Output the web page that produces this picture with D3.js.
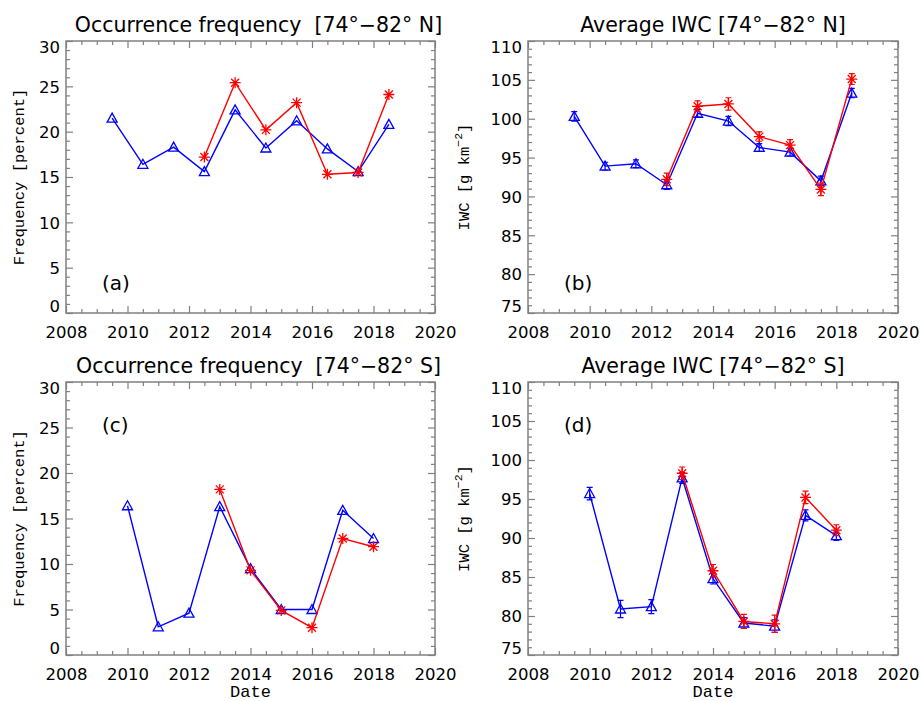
<!DOCTYPE html>
<html>
<head>
<meta charset="utf-8">
<script src="https://cdn.jsdelivr.net/npm/d3@7"></script>
<style>
  body { margin: 0; background: #fff; }
  text { white-space: pre; }
</style>
</head>
<body>
<div id="chart"></div>
<script>
// years
const yearsN = [2009.5, 2010.5, 2011.5, 2012.5, 2013.5, 2014.5, 2015.5, 2016.5, 2017.5, 2018.5];
const yearsNRed = [2012.5, 2013.5, 2014.5, 2015.5, 2016.5, 2017.5, 2018.5];
const yearsS = [2010, 2011, 2012, 2013, 2014, 2015, 2016, 2017, 2018];
const yearsSRed = [2013, 2014, 2015, 2016, 2017, 2018];

// north
const freqNBlue = [21.5, 16.4, 18.3, 15.6, 22.4, 18.2, 21.2, 18.1, 15.6, 20.8];
const freqNRed = [17.2, 25.4, 20.2, 23.2, 15.3, 15.5, 24.1];
const iwcNBlue = [100.3, 93.9, 94.2, 91.5, 100.7, 99.7, 96.3, 95.7, 92.0, 103.3];
const iwcNBlueErr = [0.6, 0.5, 0.5, 0.6, 0.5, 0.6, 0.5, 0.5, 0.6, 0.6];
const iwcNRed = [92.2, 101.6, 101.9, 97.7, 96.6, 90.9, 105.1];
const iwcNRedErr = [0.8, 0.7, 0.8, 0.6, 0.7, 0.8, 0.7];

// south
const freqSBlue = [16.4, 3.1, 4.6, 16.3, 9.5, 5.0, 5.0, 15.9, 12.8];
const freqSRed = [18.2, 9.3, 4.9, 3.0, 12.8, 11.9];
const iwcSBlue = [95.7, 80.9, 81.2, 97.7, 84.8, 79.1, 78.7, 92.9, 90.3];
const iwcSBlueErr = [0.8, 1.1, 0.9, 0.7, 0.7, 0.7, 0.8, 0.7, 0.6];
const iwcSRed = [98.3, 85.8, 79.3, 79.0, 95.2, 91.0];
const iwcSRedErr = [0.8, 0.8, 0.9, 1.1, 0.8, 0.7];

// axes
const xTicks = [2008, 2010, 2012, 2014, 2016, 2018, 2020];
const freqTicks = [0, 5, 10, 15, 20, 25, 30];
const iwcTicks = [75, 80, 85, 90, 95, 100, 105, 110];

const width = 921, height = 701;
const blue = '#0000ff', red = '#ff0000', axisGray = '#808080';
const sansFont = '"DejaVu Sans", sans-serif';
const monoFont = '"Liberation Mono", "DejaVu Sans Mono", monospace';

const svg = d3.select('#chart')
  .append('svg')
  .attr('width', width)
  .attr('height', height)
  .attr('viewBox', `0 0 ${width} ${height}`);

const zip = (xs, ys, es) => xs.map((x, i) => ({ x: x, y: ys[i], e: es ? es[i] : null }));

const panels = [
  { box: [66, 435, 41, 313], title: 'Occurrence frequency  [74°\u221282° N]', tag: '(a)', tagPos: 'bottom',
    ticks: freqTicks, yLabel: 'freq', xLabel: false,
    series: [{ c: blue, m: 'tri', d: zip(yearsN, freqNBlue) }, { c: red, m: 'star', d: zip(yearsNRed, freqNRed) }] },
  { box: [528, 898, 41, 313], title: 'Average IWC [74°\u221282° N]', tag: '(b)', tagPos: 'bottom',
    ticks: iwcTicks, yLabel: 'iwc', xLabel: false,
    series: [{ c: blue, m: 'tri', d: zip(yearsN, iwcNBlue, iwcNBlueErr) }, { c: red, m: 'star', d: zip(yearsNRed, iwcNRed, iwcNRedErr) }] },
  { box: [66, 435, 382, 655], title: 'Occurrence frequency  [74°\u221282° S]', tag: '(c)', tagPos: 'top',
    ticks: freqTicks, yLabel: 'freq', xLabel: true,
    series: [{ c: blue, m: 'tri', d: zip(yearsS, freqSBlue) }, { c: red, m: 'star', d: zip(yearsSRed, freqSRed) }] },
  { box: [528, 898, 382, 655], title: 'Average IWC [74°\u221282° S]', tag: '(d)', tagPos: 'top',
    ticks: iwcTicks, yLabel: 'iwc', xLabel: true,
    series: [{ c: blue, m: 'tri', d: zip(yearsS, iwcSBlue, iwcSBlueErr) }, { c: red, m: 'star', d: zip(yearsSRed, iwcSRed, iwcSRedErr) }] }
];

const triPath = 'M-5,4L5,4L0,-5Z';
const starPath = 'M0,-5.5V5.5M-5.5,0H5.5M-4,-4L4,4M-4,4L4,-4';

panels.forEach(drawPanel);

function drawPanel(p) {
  const [x0, x1, y0, y1] = p.box;
  const g = svg.append('g');
  const x = d3.scaleLinear().domain([2008, 2020]).range([x0, x1]);
  const y = d3.scaleLinear().domain(d3.extent(p.ticks)).range([y1, y0]);

  const minorX = d3.range(2008, 2020.01, 0.5).filter(v => v % 2 !== 0);
  const minorY = d3.range(p.ticks[0], p.ticks[p.ticks.length - 1] + 0.01, 1).filter(v => (v - p.ticks[0]) % 5 !== 0);

  // minor ticks on all sides
  const minor = [
    [d3.axisBottom(x).tickValues(minorX), `translate(0,${y1})`],
    [d3.axisTop(x).tickValues(minorX), `translate(0,${y0})`],
    [d3.axisLeft(y).tickValues(minorY), `translate(${x0},0)`],
    [d3.axisRight(y).tickValues(minorY), `translate(${x1},0)`]
  ];
  minor.forEach(([ax, tr]) => {
    g.append('g').attr('transform', tr)
      .call(ax.tickSizeInner(-4).tickSizeOuter(0).tickFormat(''))
      .call(s => s.select('.domain').remove())
      .selectAll('line').attr('stroke', axisGray).attr('stroke-width', 1.2);
  });

  // major ticks, top/right without labels
  g.append('g').attr('transform', `translate(0,${y0})`)
    .call(d3.axisTop(x).tickValues(xTicks).tickSizeInner(-7).tickSizeOuter(0).tickFormat(''))
    .call(s => s.select('.domain').remove())
    .selectAll('line').attr('stroke', axisGray).attr('stroke-width', 1.2);
  g.append('g').attr('transform', `translate(${x1},0)`)
    .call(d3.axisRight(y).tickValues(p.ticks).tickSizeInner(-7).tickSizeOuter(0).tickFormat(''))
    .call(s => s.select('.domain').remove())
    .selectAll('line').attr('stroke', axisGray).attr('stroke-width', 1.2);

  const bottomAx = g.append('g').attr('transform', `translate(0,${y1})`)
    .call(d3.axisBottom(x).tickValues(xTicks).tickSizeInner(-7).tickSizeOuter(0).tickPadding(13).tickFormat(d3.format('d')))
    .call(s => s.select('.domain').remove());
  bottomAx.selectAll('line').attr('stroke', axisGray).attr('stroke-width', 1.2);
  bottomAx.selectAll('text').attr('font-family', sansFont).attr('font-size', 16.5).attr('fill', '#000');

  const top = p.ticks[p.ticks.length - 1], bot = p.ticks[0];
  const leftAx = g.append('g').attr('transform', `translate(${x0},0)`)
    .call(d3.axisLeft(y).tickValues(p.ticks).tickSizeInner(-7).tickSizeOuter(0).tickPadding(6).tickFormat(d3.format('d')))
    .call(s => s.select('.domain').remove());
  leftAx.selectAll('line').attr('stroke', axisGray).attr('stroke-width', 1.2);
  leftAx.selectAll('text').attr('font-family', sansFont).attr('font-size', 16.5).attr('fill', '#000')
    .attr('dy', d => d === top ? '0.72em' : d === bot ? '-0.08em' : '0.35em');

  // frame
  g.append('rect')
    .attr('x', x0).attr('y', y0)
    .attr('width', x1 - x0).attr('height', y1 - y0)
    .attr('fill', 'none').attr('stroke', axisGray).attr('stroke-width', 1.5);

  // title
  g.append('text')
    .attr('x', (x0 + x1) / 2 + (p.yLabel === 'freq' ? 8 : 0)).attr('y', y0 - 9.5)
    .attr('text-anchor', 'middle')
    .attr('font-family', sansFont).attr('font-size', 20.5)
    .text(p.title);

  // y label
  const yl = g.append('text')
    .attr('transform', `translate(${x0 - (p.yLabel === 'freq' ? 42 : 59)},${(y0 + y1) / 2}) rotate(-90)`)
    .attr('text-anchor', 'middle')
    .attr('font-family', monoFont).attr('font-size', 15.5);
  if (p.yLabel === 'freq') {
    yl.text('Frequency [percent]');
  } else {
    yl.append('tspan').text('IWC [g km');
    yl.append('tspan').attr('dy', -7).attr('font-size', 11.5).text('\u22122');
    yl.append('tspan').attr('dy', 7).text(']');
  }

  if (p.xLabel) {
    g.append('text')
      .attr('x', (x0 + x1) / 2).attr('y', 697)
      .attr('text-anchor', 'middle')
      .attr('font-family', monoFont).attr('font-size', 17)
      .text('Date');
  }

  // panel tag
  g.append('text')
    .attr('x', x0 + 36)
    .attr('y', p.tagPos === 'bottom' ? y1 - 23 : y0 + 50)
    .attr('font-family', sansFont).attr('font-size', 20)
    .text(p.tag);

  // series
  const line = d3.line().x(d => x(d.x)).y(d => y(d.y));
  p.series.forEach(s => {
    const sg = g.append('g');
    sg.append('path')
      .datum(s.d)
      .attr('d', line)
      .attr('fill', 'none').attr('stroke', s.c).attr('stroke-width', 1.4);

    const errs = s.d.filter(d => d.e !== null);
    sg.selectAll('.err')
      .data(errs)
      .enter()
      .append('path')
      .attr('class', 'err')
      .attr('d', d => {
        const cx = x(d.x), ya = y(d.y - d.e), yb = y(d.y + d.e);
        return `M${cx},${ya}V${yb}M${cx - 3},${ya}H${cx + 3}M${cx - 3},${yb}H${cx + 3}`;
      })
      .attr('fill', 'none').attr('stroke', s.c).attr('stroke-width', 1.2);

    sg.selectAll('.mark')
      .data(s.d)
      .enter()
      .append('path')
      .attr('class', 'mark')
      .attr('d', s.m === 'tri' ? triPath : starPath)
      .attr('transform', d => `translate(${x(d.x)},${y(d.y)})`)
      .attr('fill', 'none').attr('stroke', s.c).attr('stroke-width', 1.3);
  });
}
</script>
</body>
</html>
